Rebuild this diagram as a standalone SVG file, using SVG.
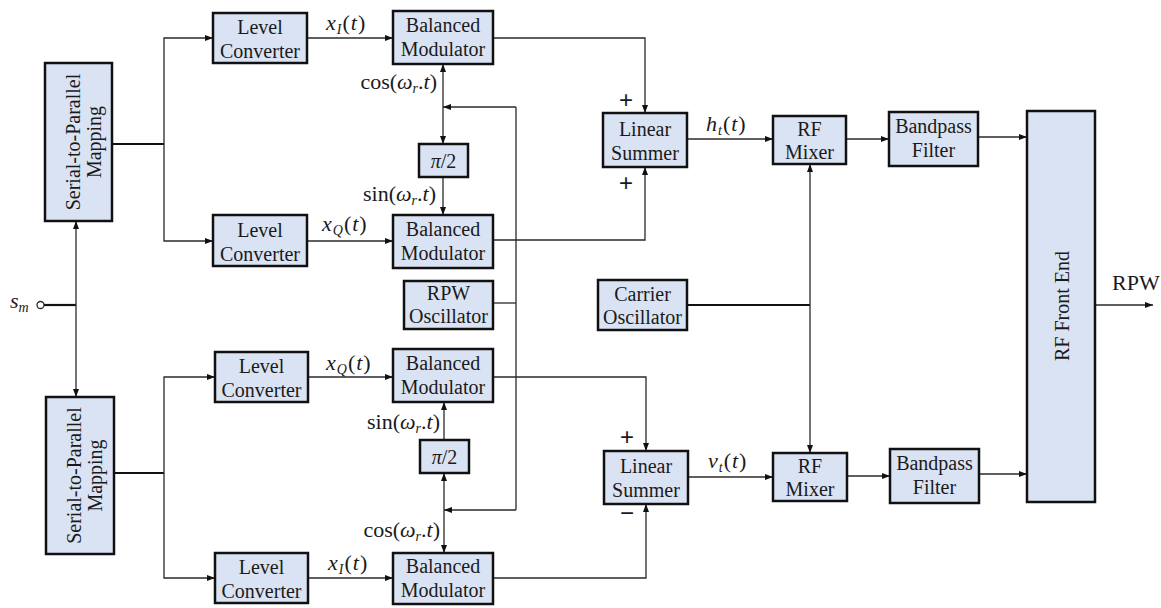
<svg xmlns="http://www.w3.org/2000/svg" width="1161" height="608" viewBox="0 0 1161 608">
<style>
.box{fill:#dae3f3;stroke:#111;stroke-width:2.5}
.t{font-family:'Liberation Serif','Times New Roman',Tinos,serif;font-size:20px;fill:#1a1a1a;text-anchor:middle}
.m{font-family:'Liberation Serif','Times New Roman',Tinos,serif;font-size:22px;fill:#1a1a1a}
.sp{letter-spacing:1px}
.i{font-style:italic}
.s{font-style:italic;font-size:14px}
.c{fill:none;stroke:#2a2a2a;stroke-width:1.3}
.ca{fill:none;stroke:#2a2a2a;stroke-width:1.3;marker-end:url(#ah)}
.cb{fill:none;stroke:#2a2a2a;stroke-width:1.3;marker-start:url(#ah);marker-end:url(#ah)}
.thick{fill:none;stroke:#111;stroke-width:2.2}
.sign{font-family:'Liberation Sans',Arial,sans-serif;font-size:24px;fill:#1a1a1a;text-anchor:middle}
</style>
<defs>
<marker id="ah" viewBox="0 0 8 6" refX="8" refY="3" markerWidth="8" markerHeight="6" orient="auto-start-reverse" markerUnits="userSpaceOnUse"><path d="M0,0 L8,3 L0,6 z" fill="#111"/></marker>
</defs>
<rect width="1161" height="608" fill="#fff"/>
<g id="connectors">
<path class="thick" d="M44,305 H76"/>
<path class="ca" d="M76,305 V221"/>
<path class="ca" d="M76,305 V397"/>
<path class="thick" d="M112,144 H164"/>
<path class="ca" d="M164,144 V38 H213"/>
<path class="ca" d="M164,144 V241 H213"/>
<path class="thick" d="M114,473 H164"/>
<path class="ca" d="M164,473 V377 H215"/>
<path class="ca" d="M164,473 V578 H215"/>
<path class="ca" d="M307,38 H393"/>
<path class="ca" d="M307,241 H393"/>
<path class="ca" d="M308,377 H393"/>
<path class="ca" d="M308,578 H393"/>
<path class="ca" d="M493,38 H645 V113"/>
<path class="ca" d="M493,240 H645 V167"/>
<path class="ca" d="M493,377 H646 V451"/>
<path class="ca" d="M493,578 H646 V504"/>
<path class="cb" d="M443,64 V144"/>
<path class="ca" d="M443,177 V215"/>
<path class="c" d="M493,303 H516"/>
<path class="c" d="M516,107 V510"/>
<path class="ca" d="M516,107 H443"/>
<path class="ca" d="M516,510 H444"/>
<path class="ca" d="M444,440 V402"/>
<path class="cb" d="M444,473 V553"/>
<path class="ca" d="M687,139 H773"/>
<path class="ca" d="M688,477 H773"/>
<path class="thick" d="M687,305 H810"/>
<path class="cb" d="M810,164 V453"/>
<path class="ca" d="M846,139 H889"/>
<path class="ca" d="M847,476 H890"/>
<path class="ca" d="M978,137 H1027"/>
<path class="ca" d="M979,474 H1027"/>
<path class="ca" d="M1095,305 H1153"/>
<circle cx="40.5" cy="305" r="3.5" fill="#fff" stroke="#2a2a2a" stroke-width="1.3"/>
</g>
<g id="sp1"><rect class="box" x="45" y="63" width="67" height="158"/>
<g transform="translate(78.5,142) rotate(-90)"><text class="t" x="0" y="1">Serial-to-Parallel</text><text class="t" x="0" y="22">Mapping</text></g></g>
<g id="sp2"><rect class="box" x="46" y="397" width="68" height="157"/>
<g transform="translate(80,475.5) rotate(-90)"><text class="t" x="0" y="1">Serial-to-Parallel</text><text class="t" x="0" y="22">Mapping</text></g></g>
<g id="lc1"><rect class="box" x="213" y="13" width="94" height="50"/><text class="t" x="260" y="34">Level</text><text class="t" x="260" y="58">Converter</text></g>
<g id="lc2"><rect class="box" x="213" y="215" width="94" height="51"/><text class="t" x="260" y="237">Level</text><text class="t" x="260" y="261">Converter</text></g>
<g id="lc3"><rect class="box" x="215" y="352" width="93" height="50"/><text class="t" x="261.5" y="373">Level</text><text class="t" x="261.5" y="397">Converter</text></g>
<g id="lc4"><rect class="box" x="215" y="553" width="93" height="50"/><text class="t" x="261.5" y="574">Level</text><text class="t" x="261.5" y="598">Converter</text></g>
<g id="bm1"><rect class="box" x="393" y="11" width="100" height="53"/><text class="t" x="443" y="32">Balanced</text><text class="t" x="443" y="56">Modulator</text></g>
<g id="bm2"><rect class="box" x="393" y="215" width="100" height="53"/><text class="t" x="443" y="236">Balanced</text><text class="t" x="443" y="260">Modulator</text></g>
<g id="bm3"><rect class="box" x="393" y="349" width="100" height="53"/><text class="t" x="443" y="370">Balanced</text><text class="t" x="443" y="394">Modulator</text></g>
<g id="bm4"><rect class="box" x="393" y="553" width="100" height="51"/><text class="t" x="443" y="573">Balanced</text><text class="t" x="443" y="597">Modulator</text></g>
<g id="ph1"><rect class="box" x="419" y="144" width="49" height="33"/><text class="t" x="443.5" y="168" font-size="22"><tspan class="i">π</tspan>/2</text></g>
<g id="ph2"><rect class="box" x="420" y="440" width="49" height="33"/><text class="t" x="444.5" y="464" font-size="22"><tspan class="i">π</tspan>/2</text></g>
<g id="rpwosc"><rect class="box" x="404" y="281" width="89" height="48"/><text class="t" x="448.5" y="300">RPW</text><text class="t" x="448.5" y="323">Oscillator</text></g>
<g id="sum1"><rect class="box" x="603" y="113" width="84" height="54"/><text class="t" x="645" y="136">Linear</text><text class="t" x="645" y="160">Summer</text></g>
<g id="sum2"><rect class="box" x="604" y="451" width="84" height="53"/><text class="t" x="646" y="473">Linear</text><text class="t" x="646" y="497">Summer</text></g>
<g id="carrier"><rect class="box" x="598" y="280" width="89" height="50"/><text class="t" x="642.5" y="301">Carrier</text><text class="t" x="642.5" y="324">Oscillator</text></g>
<g id="mix1"><rect class="box" x="773" y="116" width="73" height="48"/><text class="t" x="809.5" y="136">RF</text><text class="t" x="809.5" y="159">Mixer</text></g>
<g id="mix2"><rect class="box" x="773" y="453" width="74" height="48"/><text class="t" x="810" y="473">RF</text><text class="t" x="810" y="496">Mixer</text></g>
<g id="bpf1"><rect class="box" x="889" y="112" width="89" height="54"/><text class="t" x="933.5" y="133">Bandpass</text><text class="t" x="933.5" y="157">Filter</text></g>
<g id="bpf2"><rect class="box" x="890" y="449" width="89" height="54"/><text class="t" x="934.5" y="470">Bandpass</text><text class="t" x="934.5" y="494">Filter</text></g>
<g id="rffe"><rect class="box" x="1027" y="111" width="68" height="391"/>
<g transform="translate(1061,306) rotate(-90)"><text class="t" x="0" y="8" font-size="21">RF Front End</text></g></g>
<g id="labels">
<text class="m" x="10" y="308"><tspan class="i">s</tspan><tspan class="s" dy="4">m</tspan></text>
<text class="m sp" x="326" y="30"><tspan class="i">x</tspan><tspan class="s" dy="4">I</tspan><tspan dy="-4">(</tspan><tspan class="i">t</tspan>)</text>
<text class="m sp" x="322" y="231"><tspan class="i">x</tspan><tspan class="s" dy="4">Q</tspan><tspan dy="-4">(</tspan><tspan class="i">t</tspan>)</text>
<text class="m sp" x="326" y="370"><tspan class="i">x</tspan><tspan class="s" dy="4">Q</tspan><tspan dy="-4">(</tspan><tspan class="i">t</tspan>)</text>
<text class="m sp" x="328" y="570"><tspan class="i">x</tspan><tspan class="s" dy="4">I</tspan><tspan dy="-4">(</tspan><tspan class="i">t</tspan>)</text>
<text class="m" x="437" y="89" text-anchor="end">cos(<tspan class="i">ω</tspan><tspan class="s" dy="4">r</tspan><tspan dy="-4">.</tspan><tspan class="i">t</tspan>)</text>
<text class="m" x="436" y="201" text-anchor="end">sin(<tspan class="i">ω</tspan><tspan class="s" dy="4">r</tspan><tspan dy="-4">.</tspan><tspan class="i">t</tspan>)</text>
<text class="m" x="440" y="429" text-anchor="end">sin(<tspan class="i">ω</tspan><tspan class="s" dy="4">r</tspan><tspan dy="-4">.</tspan><tspan class="i">t</tspan>)</text>
<text class="m" x="440" y="537" text-anchor="end">cos(<tspan class="i">ω</tspan><tspan class="s" dy="4">r</tspan><tspan dy="-4">.</tspan><tspan class="i">t</tspan>)</text>
<text class="m sp" x="706" y="131"><tspan class="i">h</tspan><tspan class="s" dy="4">t</tspan><tspan dy="-4">(</tspan><tspan class="i">t</tspan>)</text>
<text class="m sp" x="708" y="468"><tspan class="i">v</tspan><tspan class="s" dy="4">t</tspan><tspan dy="-4">(</tspan><tspan class="i">t</tspan>)</text>
<text class="sign" x="626" y="108">+</text>
<text class="sign" x="626" y="191">+</text>
<text class="sign" x="627" y="445">+</text>
<text class="sign" x="627" y="521" font-size="18">−</text>
<text class="m" x="1112" y="290" font-size="20">RPW</text>
</g>
</svg>
